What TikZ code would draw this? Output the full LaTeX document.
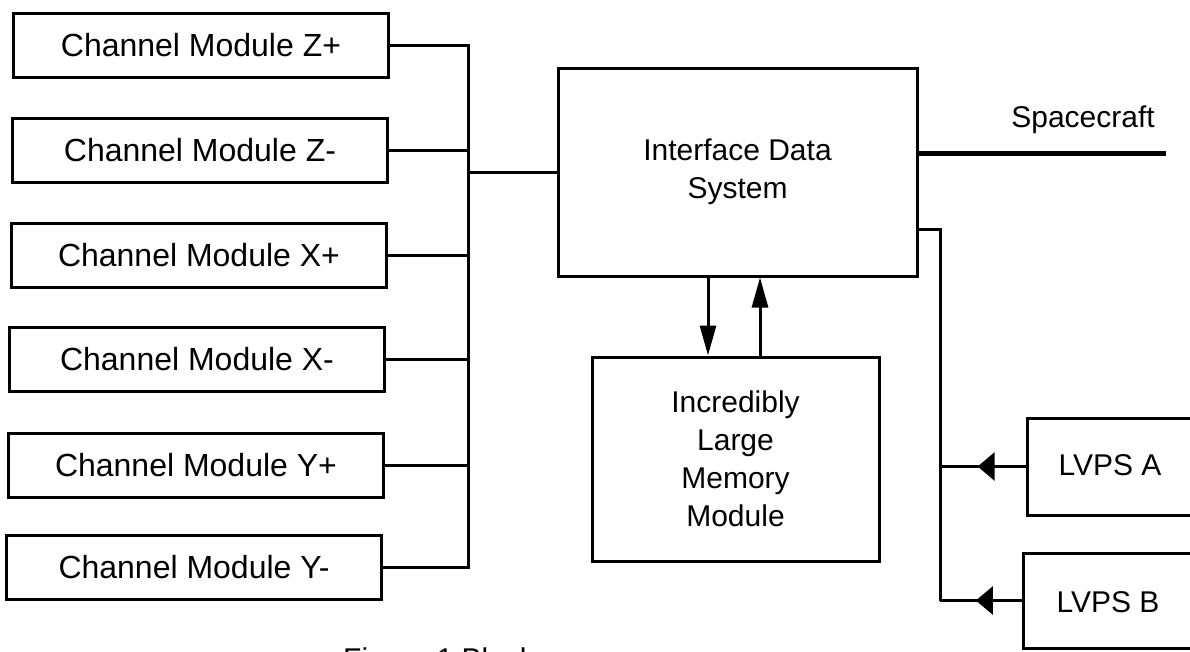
\documentclass[tikz,border=0pt]{standalone}
\usepackage{fontspec}
\setmainfont{Liberation Sans}
\usetikzlibrary{arrows.meta,decorations.markings}
\begin{document}
\begin{tikzpicture}[x=1pt,y=-1pt,
  txt/.style={font=\fontsize{30}{38}\selectfont},
  box/.style={draw,line width=3pt,inner sep=0pt,align=center,txt},
  chbox/.style={box,minimum width=375pt,minimum height=64pt,font=\fontsize{32}{38}\selectfont},
  lbl/.style={txt,inner sep=0pt,align=center},
  wire/.style={line width=3pt},
  flow/.style={line width=3pt,-{Triangle[length=30pt,width=16pt]}},
  feed/.style={line width=3pt,postaction={decorate},
    decoration={markings,mark=at position 0.56 with {\arrow{Triangle[length=17pt,width=28pt]}}}}
]
\useasboundingbox (0,0) rectangle (1190,651);
\clip (0,0) rectangle (1190,651);

% channel modules
\node[chbox] (czp) at (201,45)  {Channel Module Z+};
\node[chbox] (czm) at (200,150) {Channel Module Z-};
\node[chbox] (cxp) at (199,255) {Channel Module X+};
\node[chbox] (cxm) at (197,359) {Channel Module X-};
\node[chbox] (cyp) at (196,465) {Channel Module Y+};
\node[chbox] (cym) at (194,567) {Channel Module Y-};

% central blocks
\node[box,minimum width=359pt,minimum height=208pt] (ids) at (737.5,172) {Interface Data\\System};
\node[box,minimum width=287pt,minimum height=204pt] (ilmm) at (735.5,459) {Incredibly\\Large\\Memory\\Module};

% power supplies
\node[draw,line width=3pt,minimum width=190pt,minimum height=97pt,inner sep=0pt] (lvpsa) at (1122,466.5) {};
\node[lbl] (lvpsatxt) at (1110,465) {LVPS A};
\node[draw,line width=3pt,minimum width=190pt,minimum height=95pt,inner sep=0pt] (lvpsb) at (1118,600.5) {};
\node[lbl] (lvpsbtxt) at (1108,602) {LVPS B};

% spacecraft
\node[lbl] (sc) at (1083,120) {Spacecraft};
\coordinate (scend) at (1166,153);

% helper coordinates
\coordinate (busx) at (468,0);
\coordinate (pwrx) at (940,229);
\coordinate (dnx) at (708,0);
\coordinate (upx) at (760,0);

% bus
\draw[wire] (czp.east) -- (czp.east -| busx) -- (cym.east -| busx) -- (cym.east);
\draw[wire] (czm.east) -- (czm.east -| busx);
\draw[wire] (cxp.east) -- (cxp.east -| busx);
\draw[wire] (cxm.east) -- (cxm.east -| busx);
\draw[wire] (cyp.east) -- (cyp.east -| busx);
\draw[wire] (ids.west) -- (ids.west -| busx);

% IDS <-> memory
\draw[flow] (dnx |- ids.south) -- (dnx |- ilmm.north);
\draw[flow] (upx |- ilmm.north) -- (upx |- ids.south);

% spacecraft link
\draw[line width=5pt] (scend -| ids.east) -- (scend);

% power
\draw[wire] (pwrx -| ids.east) -- (pwrx) -- (pwrx |- lvpsb.west);
\draw[feed] (lvpsa.west) -- (lvpsa.west -| pwrx);
\draw[feed] (lvpsb.west) -- (lvpsb.west -| pwrx);

% caption (cut off by the lower edge, as in the reference)
\node[txt,anchor=north west,inner sep=0pt] (cap) at (343,648) {Figure 1 Block};
\end{tikzpicture}
\end{document}
